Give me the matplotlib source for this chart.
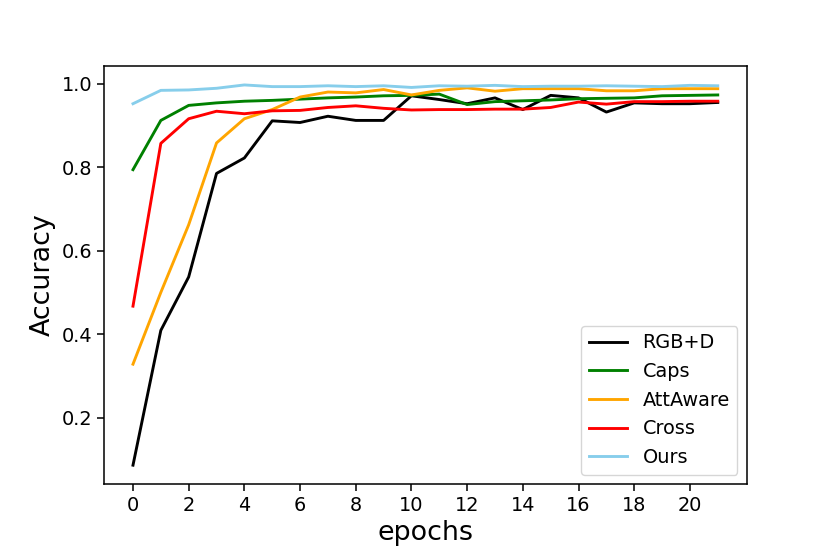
import numpy as np
import matplotlib
matplotlib.use('Agg')
import matplotlib.pyplot as plt

# accuracy per epoch
epochs = list(range(22))
rgbd = [0.086, 0.409, 0.537, 0.785, 0.822, 0.911, 0.907, 0.922, 0.912, 0.912, 0.971,
        0.962, 0.952, 0.966, 0.938, 0.972, 0.966, 0.932, 0.954, 0.952, 0.952, 0.955]
caps = [0.794, 0.912, 0.948, 0.954, 0.958, 0.960, 0.963, 0.966, 0.968, 0.971, 0.972,
        0.975, 0.950, 0.957, 0.959, 0.961, 0.964, 0.965, 0.966, 0.971, 0.972, 0.973]
attaware = [0.328, 0.500, 0.662, 0.858, 0.916, 0.938, 0.968, 0.980, 0.978, 0.986, 0.973,
            0.984, 0.990, 0.982, 0.988, 0.988, 0.988, 0.983, 0.983, 0.988, 0.988, 0.988]
cross = [0.467, 0.857, 0.916, 0.934, 0.928, 0.935, 0.936, 0.943, 0.947, 0.941, 0.937,
         0.938, 0.938, 0.939, 0.939, 0.943, 0.956, 0.951, 0.957, 0.957, 0.958, 0.958]
ours = [0.952, 0.984, 0.985, 0.989, 0.997, 0.993, 0.993, 0.995, 0.993, 0.995, 0.991,
        0.995, 0.994, 0.996, 0.993, 0.994, 0.994, 0.995, 0.994, 0.993, 0.996, 0.995]

s = 830 / 600  # original looks like a 6x4 inch figure

fig = plt.figure(figsize=(8.3, 5.54), dpi=100)
ax = fig.add_subplot(1, 1, 1)
fig.subplots_adjust(left=0.125, right=0.9, bottom=0.126, top=0.881)

lw = 1.5 * s
ax.plot(epochs, rgbd, color='black', lw=lw, label='RGB+D')
ax.plot(epochs, caps, color='green', lw=lw, label='Caps')
ax.plot(epochs, attaware, color='orange', lw=lw, label='AttAware')
ax.plot(epochs, cross, color='red', lw=lw, label='Cross')
ax.plot(epochs, ours, color='skyblue', lw=lw, label='Ours')

ax.set_xticks(np.arange(0, 21, 2))
ax.tick_params(labelsize=10 * s, width=0.8 * s, length=3.5 * s)
for sp in ax.spines.values():
    sp.set_linewidth(0.8 * s)
ax.set_xlabel('epochs', fontsize=14 * s)
ax.set_ylabel('Accuracy', fontsize=14 * s)
ax.legend(loc='lower right', fontsize=10 * s)

fig.savefig('out.png', dpi=100)
